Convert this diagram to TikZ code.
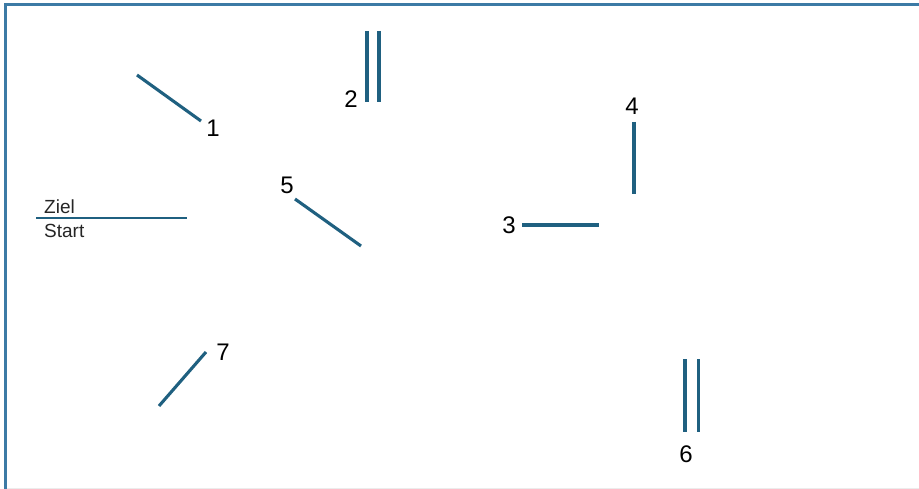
\documentclass[tikz,border=0pt]{standalone}
\usepackage{fontspec}
\setmainfont{Liberation Sans}
\definecolor{seg}{RGB}{31,96,128}
\definecolor{frame}{RGB}{60,122,165}
\definecolor{faint}{RGB}{236,236,236}
\begin{document}
\begin{tikzpicture}[x=1pt,y=-1pt,
  segline/.style={draw=seg,line width=3.1pt},
  numlabel/.style={inner sep=0pt,font=\fontsize{24}{27}\selectfont,text=black},
  smalltext/.style={inner sep=0pt,font=\fontsize{19}{22}\selectfont,text=black!85,anchor=west},
  thinline/.style={draw=seg,line width=1.4pt}]
\useasboundingbox (0,0) rectangle (919,489);
\fill[white] (0,0) rectangle (919,489);
% frame
\draw[faint,line width=1pt] (5,488) -- (919,488);
\draw[frame,line width=2.2pt] (5.5,489) -- (5.5,4.5) -- (919,4.5);
% Ziel / Start
\coordinate (zsA) at (36,218);
\coordinate (zsB) at (187,218);
\draw[thinline] (zsA) -- (zsB);
\node[smalltext] (ziel) at (44,207) {Ziel};
\node[smalltext] (start) at (44,231) {Start};
% 1
\coordinate (a1) at (137,75);
\coordinate (b1) at (201,121);
\draw[segline] (a1) -- (b1);
\node[numlabel] (n1) at (213,128) {1};
% 2
\coordinate (a2) at (367,31);
\coordinate (b2) at (367,102);
\coordinate (c2) at (379,31);
\coordinate (d2) at (379,102);
\draw[segline] (a2) -- (b2);
\draw[segline] (c2) -- (d2);
\node[numlabel] (n2) at (351,99) {2};
% 3
\coordinate (a3) at (522,225);
\coordinate (b3) at (599,225);
\draw[segline] (a3) -- (b3);
\node[numlabel] (n3) at (509,225) {3};
% 4
\coordinate (a4) at (634,122);
\coordinate (b4) at (634,194);
\draw[segline] (a4) -- (b4);
\node[numlabel] (n4) at (632,106) {4};
% 5
\coordinate (a5) at (295,199);
\coordinate (b5) at (361,246);
\draw[segline] (a5) -- (b5);
\node[numlabel] (n5) at (287,185) {5};
% 6
\coordinate (a6) at (685,359);
\coordinate (b6) at (685,432);
\coordinate (c6) at (698.5,359);
\coordinate (d6) at (698.5,432);
\draw[segline] (a6) -- (b6);
\draw[segline] (c6) -- (d6);
\node[numlabel] (n6) at (686,454) {6};
% 7
\coordinate (a7) at (159,406);
\coordinate (b7) at (206,352);
\draw[segline] (a7) -- (b7);
\node[numlabel] (n7) at (223,352) {7};
\end{tikzpicture}
\end{document}
